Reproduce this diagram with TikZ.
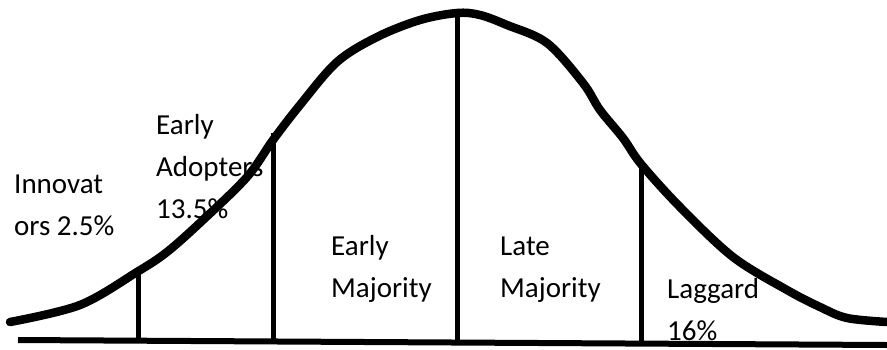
\documentclass[tikz,border=0pt]{standalone}
\usepackage{fontspec}
\setmainfont{Carlito}
\begin{document}
\begin{tikzpicture}[x=1pt,y=-1pt,
  curve/.style={line width=8.5pt,line join=round,line cap=round},
  divider/.style={line width=5pt},
  axisline/.style={line width=6pt},
  lbl/.style={font=\fontsize{29}{42}\selectfont,inner sep=0pt,anchor=base west,align=left}]
\useasboundingbox (0,0) rectangle (887,349);
% bell curve
\draw[curve] plot[smooth,tension=0.55] coordinates {
 (10,322) (80,305) (137,272) (167,252) (203,220) (247,177) (273,140) (300,105)
 (337,62) (377,37) (420,20) (457,13) (480,15) (507,25) (547,43) (583,83) (600,110)
 (623,138) (641,164) (680,207) (733,257) (787,290) (820,307) (847,318) (887,322)};
% axis
\coordinate (axL) at (18,340);
\coordinate (axR) at (887,345);
\draw[axisline] (axL) -- (axR);
% dividers
\coordinate (d1t) at (138,272); \coordinate (d1b) at (138,341);
\coordinate (d2t) at (273,133); \coordinate (d2b) at (273,342);
\coordinate (d3t) at (457,9);   \coordinate (d3b) at (457,342);
\coordinate (d4t) at (641,162); \coordinate (d4b) at (641,344);
\draw[divider] (d1t) -- (d1b);
\draw[divider] (d2t) -- (d2b);
\draw[divider] (d3t) -- (d3b);
\draw[divider] (d4t) -- (d4b);
% labels
\node[lbl] (inn) at (14,235) {Innovat\\ors 2.5\%};
\node[lbl] (ea) at (156,218) {Early\\Adopters\\13.5\%};
\node[lbl] (em) at (331,297) {Early\\Majority};
\node[lbl] (lm) at (500,297) {Late\\Majority};
\node[lbl] (lag) at (667,340) {Laggard\\16\%};
\end{tikzpicture}
\end{document}
